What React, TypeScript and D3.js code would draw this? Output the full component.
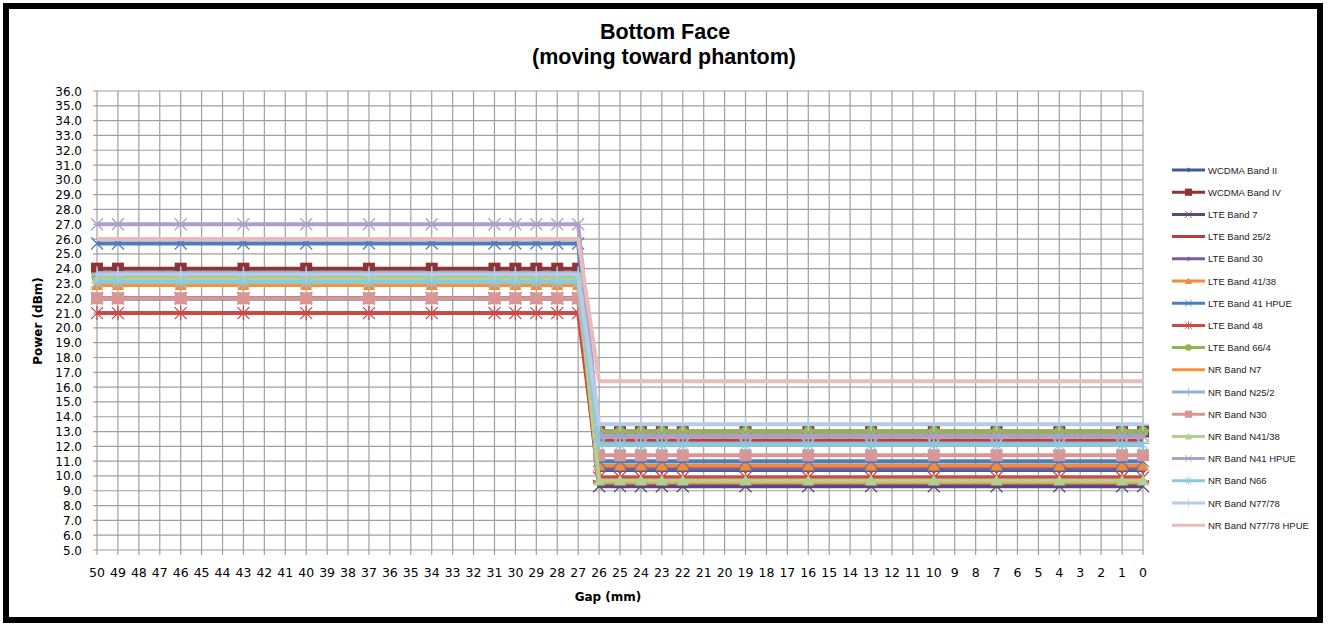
import React from "react";
import * as d3 from "d3";

// gap positions (mm) where power was measured
const gaps = [50, 49, 46, 43, 40, 37, 34, 31, 30, 29, 28, 27, 26, 25, 24, 23, 22, 19, 16, 13, 10, 7, 4, 1, 0];
// full category axis 50 .. 0
const categories = [50, 49, 48, 47, 46, 45, 44, 43, 42, 41, 40, 39, 38, 37, 36, 35, 34, 33, 32, 31, 30, 29, 28, 27, 26, 25, 24, 23, 22, 21, 20, 19, 18, 17, 16, 15, 14, 13, 12, 11, 10, 9, 8, 7, 6, 5, 4, 3, 2, 1, 0];
const yTicks = [5, 6, 7, 8, 9, 10, 11, 12, 13, 14, 15, 16, 17, 18, 19, 20, 21, 22, 23, 24, 25, 26, 27, 28, 29, 30, 31, 32, 33, 34, 35, 36];

const seriesNames = [
  "WCDMA Band II", "WCDMA Band IV", "LTE Band 7", "LTE Band 25/2", "LTE Band 30",
  "LTE Band 41/38", "LTE Band 41 HPUE", "LTE Band 48", "LTE Band 66/4", "NR Band N7",
  "NR Band N25/2", "NR Band N30", "NR Band N41/38", "NR Band N41 HPUE", "NR Band N66",
  "NR Band N77/78", "NR Band N77/78 HPUE",
];
const seriesColors = [
  "#3B5F93", "#8E3533", "#5E4879", "#B8403C", "#7A5C9E",
  "#F28C3C", "#4A7EC0", "#C94A46", "#8DB650", "#F7923F",
  "#92B0D8", "#D99694", "#B5D08E", "#ADA0C8", "#8CCADB",
  "#B8CCE6", "#E8BCBA",
];
const seriesMarkers = [
  "diamond", "square", "x", "none", "diamond",
  "triangle", "x", "star", "circle", "none",
  "plus", "square", "triangle", "x", "star",
  "plus", "none",
];

const wcdmaII = [22.0, 22.0, 22.0, 22.0, 22.0, 22.0, 22.0, 22.0, 22.0, 22.0, 22.0, 22.0, 10.4, 10.4, 10.4, 10.4, 10.4, 10.4, 10.4, 10.4, 10.4, 10.4, 10.4, 10.4, 10.4];
const wcdmaIV = [24.0, 24.0, 24.0, 24.0, 24.0, 24.0, 24.0, 24.0, 24.0, 24.0, 24.0, 24.0, 13.0, 13.0, 13.0, 13.0, 13.0, 13.0, 13.0, 13.0, 13.0, 13.0, 13.0, 13.0, 13.0];
const lte7 = [22.0, 22.0, 22.0, 22.0, 22.0, 22.0, 22.0, 22.0, 22.0, 22.0, 22.0, 22.0, 9.3, 9.3, 9.3, 9.3, 9.3, 9.3, 9.3, 9.3, 9.3, 9.3, 9.3, 9.3, 9.3];
const lte25 = [23.0, 23.0, 23.0, 23.0, 23.0, 23.0, 23.0, 23.0, 23.0, 23.0, 23.0, 23.0, 12.4, 12.4, 12.4, 12.4, 12.4, 12.4, 12.4, 12.4, 12.4, 12.4, 12.4, 12.4, 12.4];
const lte30 = [22.0, 22.0, 22.0, 22.0, 22.0, 22.0, 22.0, 22.0, 22.0, 22.0, 22.0, 22.0, 10.5, 10.5, 10.5, 10.5, 10.5, 10.5, 10.5, 10.5, 10.5, 10.5, 10.5, 10.5, 10.5];
const lte41 = [22.9, 22.9, 22.9, 22.9, 22.9, 22.9, 22.9, 22.9, 22.9, 22.9, 22.9, 22.9, 10.7, 10.7, 10.7, 10.7, 10.7, 10.7, 10.7, 10.7, 10.7, 10.7, 10.7, 10.7, 10.7];
const lte41Hpue = [25.7, 25.7, 25.7, 25.7, 25.7, 25.7, 25.7, 25.7, 25.7, 25.7, 25.7, 25.7, 11.0, 11.0, 11.0, 11.0, 11.0, 11.0, 11.0, 11.0, 11.0, 11.0, 11.0, 11.0, 11.0];
const lte48 = [21.0, 21.0, 21.0, 21.0, 21.0, 21.0, 21.0, 21.0, 21.0, 21.0, 21.0, 21.0, 9.9, 9.9, 9.9, 9.9, 9.9, 9.9, 9.9, 9.9, 9.9, 9.9, 9.9, 9.9, 9.9];
const lte66 = [23.4, 23.4, 23.4, 23.4, 23.4, 23.4, 23.4, 23.4, 23.4, 23.4, 23.4, 23.4, 13.0, 13.0, 13.0, 13.0, 13.0, 13.0, 13.0, 13.0, 13.0, 13.0, 13.0, 13.0, 13.0];
const nrN7 = [22.9, 22.9, 22.9, 22.9, 22.9, 22.9, 22.9, 22.9, 22.9, 22.9, 22.9, 22.9, 9.6, 9.6, 9.6, 9.6, 9.6, 9.6, 9.6, 9.6, 9.6, 9.6, 9.6, 9.6, 9.6];
const nrN25 = [23.7, 23.7, 23.7, 23.7, 23.7, 23.7, 23.7, 23.7, 23.7, 23.7, 23.7, 23.7, 12.2, 12.2, 12.2, 12.2, 12.2, 12.2, 12.2, 12.2, 12.2, 12.2, 12.2, 12.2, 12.2];
const nrN30 = [22.0, 22.0, 22.0, 22.0, 22.0, 22.0, 22.0, 22.0, 22.0, 22.0, 22.0, 22.0, 11.4, 11.4, 11.4, 11.4, 11.4, 11.4, 11.4, 11.4, 11.4, 11.4, 11.4, 11.4, 11.4];
const nrN41 = [23.3, 23.3, 23.3, 23.3, 23.3, 23.3, 23.3, 23.3, 23.3, 23.3, 23.3, 23.3, 9.7, 9.7, 9.7, 9.7, 9.7, 9.7, 9.7, 9.7, 9.7, 9.7, 9.7, 9.7, 9.7];
const nrN41Hpue = [27.0, 27.0, 27.0, 27.0, 27.0, 27.0, 27.0, 27.0, 27.0, 27.0, 27.0, 27.0, 12.7, 12.7, 12.7, 12.7, 12.7, 12.7, 12.7, 12.7, 12.7, 12.7, 12.7, 12.7, 12.7];
const nrN66 = [23.1, 23.1, 23.1, 23.1, 23.1, 23.1, 23.1, 23.1, 23.1, 23.1, 23.1, 23.1, 12.1, 12.1, 12.1, 12.1, 12.1, 12.1, 12.1, 12.1, 12.1, 12.1, 12.1, 12.1, 12.1];
const nrN77 = [23.6, 23.6, 23.6, 23.6, 23.6, 23.6, 23.6, 23.6, 23.6, 23.6, 23.6, 23.6, 13.5, 13.5, 13.5, 13.5, 13.5, 13.5, 13.5, 13.5, 13.5, 13.5, 13.5, 13.5, 13.5];
const nrN77Hpue = [26.0, 26.0, 26.0, 26.0, 26.0, 26.0, 26.0, 26.0, 26.0, 26.0, 26.0, 26.0, 16.4, 16.4, 16.4, 16.4, 16.4, 16.4, 16.4, 16.4, 16.4, 16.4, 16.4, 16.4, 16.4];

const seriesValues = [
  wcdmaII, wcdmaIV, lte7, lte25, lte30, lte41, lte41Hpue, lte48, lte66, nrN7,
  nrN25, nrN30, nrN41, nrN41Hpue, nrN66, nrN77, nrN77Hpue,
];

const W = 1328;
const H = 628;
const margin = { left: 97, right: 1143, top: 91, bottom: 550 };
const axisFont = "'DejaVu Sans', Verdana, sans-serif";
const titleFont = "'Liberation Sans', Arial, sans-serif";

function Marker({ type, x, y, color }: { type: string; x: number; y: number; color: string }) {
  if (type === "none") return null;
  if (type === "square") return <rect x={x - 6} y={y - 6} width={12} height={12} fill={color} />;
  if (type === "diamond") return <path d={`M${x},${y - 4}L${x + 4},${y}L${x},${y + 4}L${x - 4},${y}Z`} fill={color} />;
  if (type === "circle") return <circle cx={x} cy={y} r={5.5} fill={color} />;
  if (type === "triangle")
    return <path d={`M${x},${y - 6}L${x + 6},${y + 5}L${x - 6},${y + 5}Z`} fill={color} />;
  const s = 6;
  const lines: [number, number, number, number][] = [];
  if (type === "x" || type === "star") {
    lines.push([x - s, y - s, x + s, y + s], [x - s, y + s, x + s, y - s]);
  }
  if (type === "star" || type === "plus") lines.push([x, y - s - 1, x, y + s + 1]);
  if (type === "plus") lines.push([x - s, y, x + s, y]);
  return (
    <g stroke={color} strokeWidth={1.3}>
      {lines.map((l, i) => (
        <line key={i} x1={l[0]} y1={l[1]} x2={l[2]} y2={l[3]} />
      ))}
    </g>
  );
}

export default function App() {
  const x = d3.scalePoint<number>().domain(categories).range([margin.left, margin.right]);
  const y = d3.scaleLinear().domain([5, 36]).range([margin.bottom, margin.top]);
  const line = d3
    .line<number>()
    .x((_, i) => x(gaps[i]) as number)
    .y((d) => y(d));

  const legendX = 1172;
  const legendY0 = 170;
  const legendStep = 22.2;

  return (
    <div style={{ position: "absolute", left: 0, top: 0 }}>
      <svg width={W} height={H} style={{ display: "block", background: "#fff" }}>
        <rect x={0} y={0} width={W} height={H} fill="#fff" />
        <rect x={6} y={6} width={1314} height={614} fill="none" stroke="#000" strokeWidth={6} />

        {/* title */}
        <text x={665} y={39} textAnchor="middle" fontFamily={titleFont} fontWeight="bold" fontSize={21.5}>
          Bottom Face
        </text>
        <text x={664} y={64} textAnchor="middle" fontFamily={titleFont} fontWeight="bold" fontSize={21.5}>
          (moving toward phantom)
        </text>

        {/* grid */}
        <g stroke="#A0A0A0" strokeWidth={1.2}>
          {yTicks.map((t) => (
            <line key={"h" + t} x1={margin.left - 4} x2={margin.right} y1={y(t)} y2={y(t)} />
          ))}
          {categories.map((c) => (
            <line key={"v" + c} x1={x(c)} x2={x(c)} y1={margin.top} y2={margin.bottom + 5} />
          ))}
        </g>

        {/* y axis labels */}
        <g fontFamily={axisFont} fontSize={12} fill="#000">
          {yTicks.map((t) => (
            <text key={t} x={82} y={y(t) + 4.5} textAnchor="end">
              {d3.format(".1f")(t)}
            </text>
          ))}
        </g>
        <text
          transform={`translate(42,${321}) rotate(-90)`}
          textAnchor="middle"
          fontFamily={axisFont}
          fontWeight="bold"
          fontSize={12}
        >
          Power (dBm)
        </text>

        {/* x axis labels */}
        <g fontFamily={axisFont} fontSize={12.5} fill="#000">
          {categories.map((c) => (
            <text key={c} x={x(c)} y={577} textAnchor="middle">
              {c}
            </text>
          ))}
        </g>
        <text x={608} y={601} textAnchor="middle" fontFamily={axisFont} fontWeight="bold" fontSize={12}>
          Gap (mm)
        </text>

        {/* series */}
        {seriesValues.map((vals, si) => (
          <g key={seriesNames[si]}>
            <path d={line(vals) || ""} fill="none" stroke={seriesColors[si]} strokeWidth={4} strokeLinejoin="round" />
            {vals.map((v, i) => (
              <Marker key={i} type={seriesMarkers[si]} x={x(gaps[i]) as number} y={y(v)} color={seriesColors[si]} />
            ))}
          </g>
        ))}

        {/* legend */}
        <g fontFamily={titleFont} fontSize={9.5} fill="#222">
          {seriesNames.map((n, i) => {
            const ly = legendY0 + i * legendStep;
            return (
              <g key={n}>
                <line x1={legendX} x2={legendX + 33} y1={ly} y2={ly} stroke={seriesColors[i]} strokeWidth={3} />
                <g transform={`translate(${legendX + 16.5},${ly}) scale(0.6) translate(${-(legendX + 16.5)},${-ly})`}>
                  <Marker type={seriesMarkers[i]} x={legendX + 16.5} y={ly} color={seriesColors[i]} />
                </g>
                <text x={legendX + 36} y={ly + 3.5}>
                  {n}
                </text>
              </g>
            );
          })}
        </g>
      </svg>
    </div>
  );
}
